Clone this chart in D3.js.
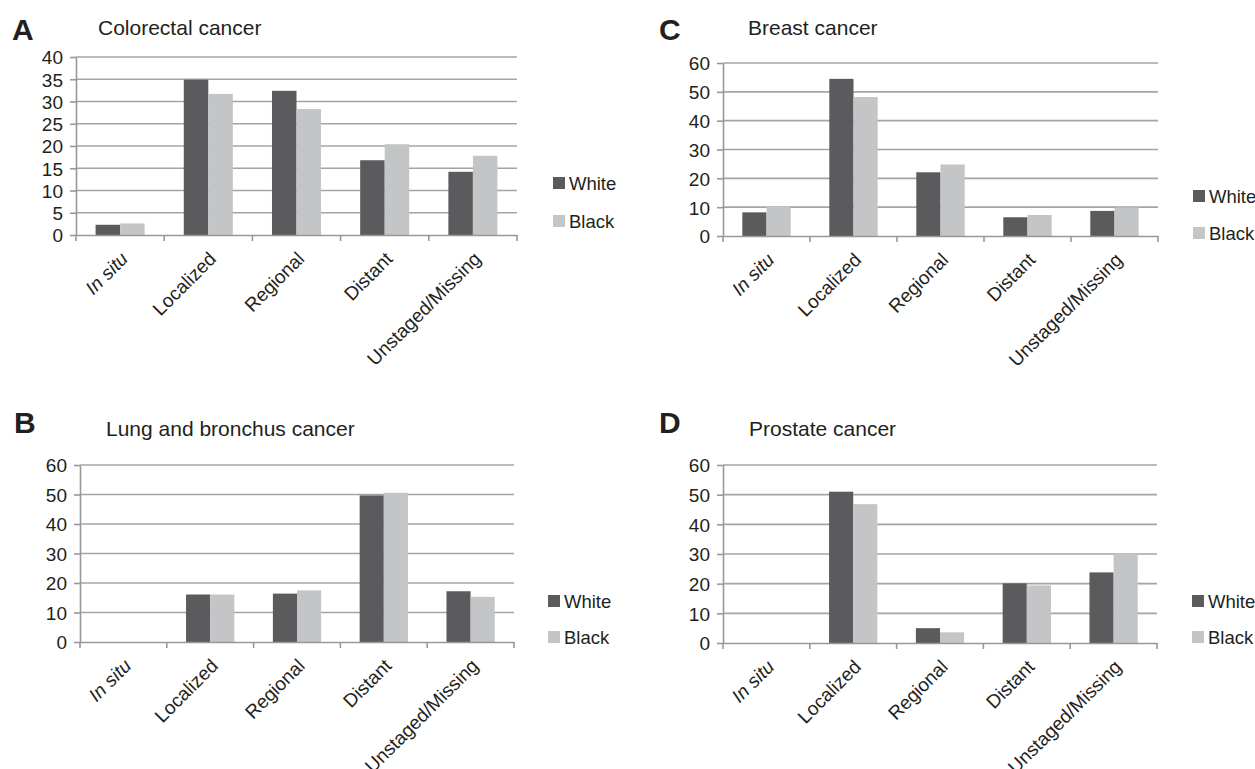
<!DOCTYPE html>
<meta charset="utf-8">
<style>
body { margin: 0; background: #fff; }
svg { font-family: "Liberation Sans", Arial, sans-serif; }
.grid line { stroke: #a4a4a6; stroke-width: 1.6px; }
.axis path, .axis line { stroke: #98989a; stroke-width: 1.6px; }
.axis text { fill: #231f20; font-size: 19px; }
.title { fill: #231f20; font-size: 21px; }
.letter { fill: #231f20; font-size: 30px; font-weight: bold; }
.legend text { fill: #231f20; font-size: 18.5px; }
</style>
<svg width="1255" height="769"></svg>
<script src="https://d3js.org/d3.v7.min.js"></script>
<script>

var stages = ["In situ", "Localized", "Regional", "Distant", "Unstaged/Missing"];
var series = ["White", "Black"];
var colors = ["#5b5b5d", "#c4c5c7"];

// percent of cases by stage
var colorectalWhite = [2.3, 34.9, 32.4, 16.8, 14.2];
var colorectalBlack = [2.6, 31.7, 28.3, 20.4, 17.8];
var breastWhite = [8.2, 54.5, 22.1, 6.5, 8.7];
var breastBlack = [10.1, 48.2, 24.8, 7.3, 9.9];
var lungWhite = [0, 16.1, 16.4, 49.7, 17.2];
var lungBlack = [0, 16.1, 17.5, 50.6, 15.3];
var prostateWhite = [0, 51.0, 5.0, 20.1, 23.8];
var prostateBlack = [0, 46.8, 3.6, 19.4, 30.1];

var ticks40 = [0, 5, 10, 15, 20, 25, 30, 35, 40];
var ticks60 = [0, 10, 20, 30, 40, 50, 60];

var panels = [
  {letter: "A", title: "Colorectal cancer", white: colorectalWhite, black: colorectalBlack, ticks: ticks40,
   x0: 76, x1: 517, yTop: 57, yBot: 235, lx: 12, ly: 40, tx: 98, ty: 35, legX: 553, legY: [183, 221]},
  {letter: "C", title: "Breast cancer", white: breastWhite, black: breastBlack, ticks: ticks60,
   x0: 723, x1: 1158, yTop: 63, yBot: 236, lx: 659, ly: 40, tx: 748, ty: 35, legX: 1193, legY: [196, 233]},
  {letter: "B", title: "Lung and bronchus cancer", white: lungWhite, black: lungBlack, ticks: ticks60,
   x0: 80, x1: 514, yTop: 465, yBot: 642, lx: 14, ly: 433, tx: 106, ty: 436, legX: 548, legY: [601, 637]},
  {letter: "D", title: "Prostate cancer", white: prostateWhite, black: prostateBlack, ticks: ticks60,
   x0: 723, x1: 1157, yTop: 465, yBot: 643, lx: 659, ly: 433, tx: 749, ty: 436, legX: 1192, legY: [601, 637]}
];

var svg = d3.select("svg");

panels.forEach(function(p) {
  var g = svg.append("g");

  var x = d3.scaleBand().domain(stages).range([p.x0, p.x1]);
  var y = d3.scaleLinear().domain([0, d3.max(p.ticks)]).range([p.yBot, p.yTop]);
  var xs = d3.scaleBand().domain(series)
      .range([0, x.bandwidth() * 0.556]);
  var off = (x.bandwidth() - xs.range()[1]) / 2;

  g.append("text").attr("class", "letter").attr("x", p.lx).attr("y", p.ly).text(p.letter);
  g.append("text").attr("class", "title").attr("x", p.tx).attr("y", p.ty).text(p.title);

  // gridlines
  g.append("g").attr("class", "grid")
    .selectAll("line")
    .data(p.ticks.slice(1))
    .enter().append("line")
      .attr("x1", p.x0).attr("x2", p.x1)
      .attr("y1", function(d) { return y(d); })
      .attr("y2", function(d) { return y(d); });

  // bars
  var rows = stages.map(function(s, i) { return {stage: s, vals: [p.white[i], p.black[i]]}; });
  g.append("g").selectAll("g")
    .data(rows)
    .enter().append("g")
      .attr("transform", function(d) { return "translate(" + (x(d.stage) + off) + ",0)"; })
    .selectAll("rect")
    .data(function(d) { return d.vals; })
    .enter().append("rect")
      .attr("x", function(d, i) { return xs(series[i]); })
      .attr("width", xs.bandwidth())
      .attr("y", function(d) { return y(d); })
      .attr("height", function(d) { return p.yBot - y(d); })
      .attr("fill", function(d, i) { return colors[i]; });

  // y axis
  var ya = g.append("g").attr("class", "axis")
      .attr("transform", "translate(" + p.x0 + ",0)")
      .call(d3.axisLeft(y).tickValues(p.ticks).tickSize(6).tickSizeOuter(0).tickPadding(7));
  ya.selectAll(".tick text").attr("dy", "0.36em");

  // x axis
  var xa = g.append("g").attr("class", "axis")
      .attr("transform", "translate(0," + p.yBot + ")")
      .call(d3.axisBottom(x).tickSize(0).tickSizeOuter(0));
  xa.selectAll(".tick line").remove();
  xa.selectAll(".edge")
    .data(d3.range(stages.length + 1))
    .enter().append("line")
      .attr("x1", function(i) { return p.x0 + i * x.step(); })
      .attr("x2", function(i) { return p.x0 + i * x.step(); })
      .attr("y1", 0).attr("y2", 6);
  xa.selectAll(".tick text")
      .attr("text-anchor", "end")
      .attr("dy", null)
      .attr("transform", "translate(9,25) rotate(-45)")
      .attr("y", 0).attr("x", 0)
      .style("font-style", function(d) { return d === "In situ" ? "italic" : null; });

  // legend
  var leg = g.append("g").attr("class", "legend");
  series.forEach(function(s, i) {
    leg.append("rect").attr("x", p.legX).attr("y", p.legY[i] - 6)
      .attr("width", 12).attr("height", 12).attr("fill", colors[i]);
    leg.append("text").attr("x", p.legX + 16).attr("y", p.legY[i]).attr("dy", "0.36em").text(s);
  });
});

</script>
